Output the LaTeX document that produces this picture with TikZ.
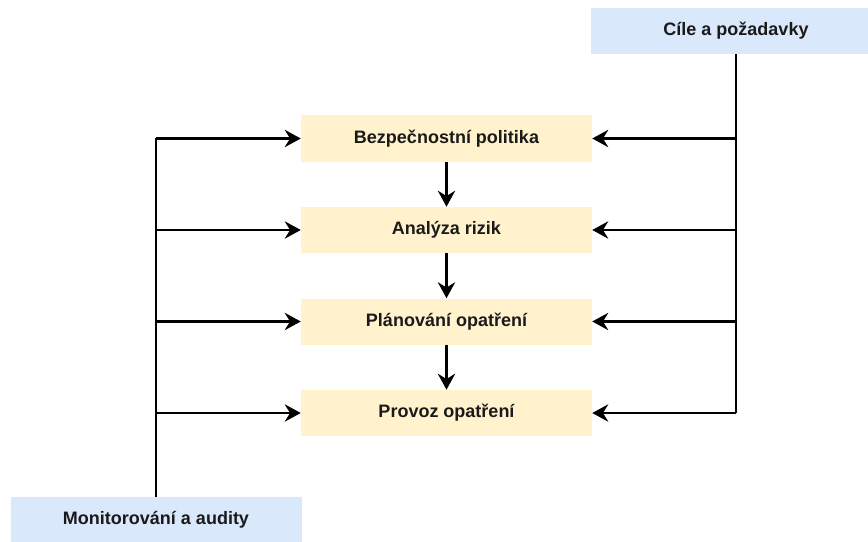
\documentclass[tikz,border=0pt]{standalone}
\usepackage{fontspec}
\setmainfont{Liberation Sans}
\usetikzlibrary{arrows.meta}
\definecolor{stepfill}{HTML}{FFF2CC}
\definecolor{sidefill}{HTML}{DAE8FC}
\definecolor{inkc}{HTML}{1A1A1A}
\tikzset{
  stepbox/.style={fill=stepfill, draw=none, minimum width=218.25pt, minimum height=34.5pt,
    inner sep=0pt, font=\bfseries\fontsize{13.5pt}{16pt}\selectfont, text=inkc},
  sidebox/.style={stepbox, fill=sidefill},
  link/.style={line width=1.7pt, draw=black},
  arr/.style={link, -{Stealth[length=12pt, width=13pt, inset=4pt]}}
}
\begin{document}
\begin{tikzpicture}[x=0.75pt, y=-0.75pt]
  \useasboundingbox (0,0) rectangle (868,542);
  \clip (0,0) rectangle (868,542);

  % process steps
  \node[stepbox] (bp) at (446.5,138.5) {Bezpečnostní politika};
  \node[stepbox] (ar) at (446.5,230) {Analýza rizik};
  \node[stepbox] (po) at (446.5,321.5) {Plánování opatření};
  \node[stepbox] (pr) at (446.5,413) {Provoz opatření};

  % inputs on both sides
  \node[sidebox] (cile) at (736,31) {Cíle a požadavky};
  \node[sidebox] (mon) at (156,520) {Monitorování a audity};

  % main flow
  \draw[arr] (bp) -- (ar);
  \draw[arr] (ar) -- (po);
  \draw[arr] (po) -- (pr);

  % requirements feed every step from the right
  \draw[link] (cile.south) -- (cile.south |- pr.east);
  \foreach \s in {bp,ar,po,pr}
    \draw[arr] (cile.south |- \s.east) -- (\s.east);

  % monitoring feeds every step from the left
  \draw[link] (mon.north) -- (mon.north |- bp.west);
  \foreach \s in {bp,ar,po,pr}
    \draw[arr] (mon.north |- \s.west) -- (\s.west);
\end{tikzpicture}
\end{document}
